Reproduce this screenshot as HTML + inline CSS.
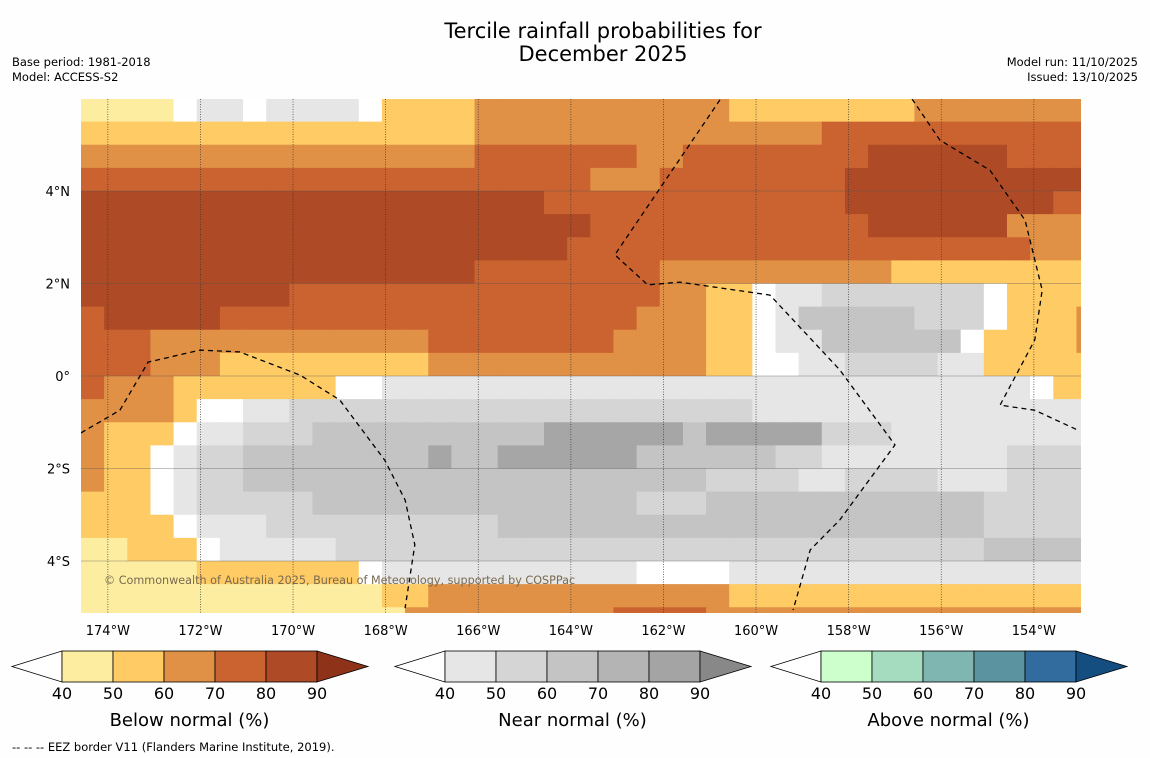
<!DOCTYPE html>
<html><head><meta charset="utf-8"><style>
body{margin:0;background:#fefefe;font-family:"DejaVu Sans","Liberation Sans",sans-serif;}
svg{display:block}
</style></head><body>
<svg id="s" width="1150" height="758" xmlns="http://www.w3.org/2000/svg" font-family="DejaVu Sans, Liberation Sans, sans-serif">
<rect width="1150" height="758" fill="#fefefe"/>
<text x="603" y="38" font-size="21" text-anchor="middle">Tercile rainfall probabilities for</text>
<text x="603" y="61" font-size="21" text-anchor="middle">December 2025</text>
<text x="12" y="66" font-size="11.5">Base period: 1981-2018</text>
<text x="12" y="81" font-size="11.5">Model: ACCESS-S2</text>
<text x="1138" y="66" font-size="11.5" text-anchor="end">Model run: 11/10/2025</text>
<text x="1138" y="81" font-size="11.5" text-anchor="end">Issued: 13/10/2025</text>
<defs><clipPath id="mc"><rect x="81" y="99" width="1000" height="514"/></clipPath></defs>
<g id="map" clip-path="url(#mc)"></g>
<g id="ax"></g>
<g id="cb"></g>
<text x="12" y="751" font-size="11.5">--  --  -- EEZ border V11 (Flanders Marine Institute, 2019).</text>
</svg>
<script>
const NS="http://www.w3.org/2000/svg";
const lonTicks=[-174,-172,-170,-168,-166,-164,-162,-160,-158,-156,-154];
const latTicks=[4,2,0,-2,-4];
const gridLon0=-174.58, gridLat0=6.0, cellDeg=0.5;
const gridRows=[
"1111waawaaaaw2222333333333332222222233333333",
"22222222222222222333333333333333444444444444",
"33333333333333333444444433444444445555554444",
"44444444444444444444443334444444455555555555",
"55555555555555555555444444444444455555555544",
"55555555555555555555554444444444445555553333",
"55555555555555555555544444444444444444444333",
"55555555555555555444444443333333333222222222",
"55555555544444444444444443322waabbbbbbbw2222",
"45555544444444444444444433322wacccccbbbw2223",
"44433333333333344444444333327waaccccccw22223",
"44433322222222233333333333322wwaabbbbaa22222",
"43332222222wwaaaaaaaaaaaaaaaaaaaaaaaaaaaaw22",
"33332wwaabbbbbbbbbbbbbbbbbbbbaaaaaaaaaaaaaaa",
"3222waabbbcccccccccceeeeeeceeeeebbbaaaaaaaaa",
"322wabbccccccccecceeeeeeccccccbbaaaaaaaabbbb",
"322wabbccccccccccccccccccccbbbbaabbbbaaabbbb",
"222wabbbbbccccccccccccccbbbccccccccccccbbbbb",
"2222waaabbbbbbbbbbcccccccccccccccccccccbbbbb",
"11222waaaaabbbbbbbbbbbbbbbbbbbbbbbbbbbbccccc",
"111112222222waaaaaaaaaaawwwwaaaaaaaaaaaaaaaa",
"11111111111112233333333333332222222222222222",
"11111111111111333333333444433333333333333333"
];
const catColors={"1":"#fdeda0","2":"#fecb65","3":"#e09145","4":"#cb6331","5":"#ae4a25","7":"#fecb65","w":"#ffffff","a":"#e6e6e6","b":"#d5d5d5","c":"#c4c4c4","d":"#b4b4b4","e":"#a6a6a6"};
const eez1=[[-174.58,-1.23],[-173.74,-0.74],[-173.13,0.30],[-172.01,0.56],[-171.15,0.52],[-169.85,0.02],[-168.99,-0.52],[-168.02,-1.82],[-167.58,-2.68],[-167.37,-3.65],[-167.58,-5.02]];
const eez2=[[-160.78,5.97],[-163.05,2.62],[-162.34,1.97],[-161.65,2.03],[-159.70,1.75],[-158.19,0.13],[-157.0,-1.49],[-158.19,-3.11],[-158.83,-3.76],[-159.2,-5.06]];
const eez3=[[-156.63,5.99],[-156.03,5.10],[-154.95,4.45],[-154.19,3.37],[-153.82,1.86],[-153.98,0.78],[-154.73,-0.63],[-153.98,-0.74],[-153.05,-1.17]];
const cbTicks=[40,50,60,70,80,90];
const below=["#fdeda0","#fecb65","#e09145","#cb6331","#ae4a25"],belowEnd="#8e3219";
const near=["#e6e6e6","#d5d5d5","#c4c4c4","#b4b4b4","#a4a4a4"],nearEnd="#888888";
const above=["#ccffcc","#a5dbbf","#80b6b1","#5b94a0","#326c9e"],aboveEnd="#144d80";

const X=lon=>81+(lon-gridLon0)*46.3;
const Y=lat=>376-lat*46.25;
function el(t,a,p){const e=document.createElementNS(NS,t);for(const k in a)e.setAttribute(k,a[k]);p.appendChild(e);return e;}
const map=document.getElementById('map'),ax=document.getElementById('ax'),cb=document.getElementById('cb');
gridRows.forEach((row,r)=>{
  for(let c=0;c<44;c++){
    const ch=row[c]||row[row.length-1];
    const lon=gridLon0+c*cellDeg,lat=gridLat0-r*cellDeg;
    const x0=X(lon),x1=X(lon+cellDeg),y0=Y(lat),y1=Y(lat-cellDeg);
    const e=el('rect',{x:x0,y:y0,width:x1-x0+0.6,height:y1-y0+0.6,fill:catColors[ch]||"#e6e6e6"},map);
    
    
  }
});
latTicks.forEach(l=>{
  const e=el('line',{x1:81,x2:1081,y1:Y(l),y2:Y(l),stroke:"#555",'stroke-width':0.6,opacity:0.7},map);
  
  const t=el('text',{x:70,y:Y(l)+5,'font-size':13,'text-anchor':'end'},ax);
  t.textContent=l>0?l+'°N':l<0?(-l)+'°S':'0°';
  
});
lonTicks.forEach(l=>{
  const e=el('line',{x1:X(l),x2:X(l),y1:99,y2:613,stroke:"#333",'stroke-width':0.7,'stroke-dasharray':'1,1.5'},map);
  
  const t=el('text',{x:X(l),y:635,'font-size':13,'text-anchor':'middle'},ax);
  t.textContent=(-l)+'°W';
  
});
[eez1,eez2,eez3].forEach(p=>{
  const e=el('polyline',{points:p.map(q=>X(q[0])+','+Y(q[1])).join(' '),fill:'none',stroke:'#000','stroke-width':1.3,'stroke-dasharray':'5,4'},map);
  
});
const cr=el('text',{x:104,y:584,'font-size':11.2,fill:'#7a6a50'},map);
cr.textContent='© Commonwealth of Australia 2025, Bureau of Meteorology, supported by COSPPac';

function bar(x0,cols,endc,title,name){
  const w=51,y=651,h=31;
  const g=el('g',{},cb);
  el('polygon',{points:`${x0},${y+h/2} ${x0+50},${y} ${x0+50},${y+h}`,fill:'#fff',stroke:'#000','stroke-width':0.8},g);
  cols.forEach((c,i)=>{el('rect',{x:x0+50+i*w,y:y,width:w,height:h,fill:c,stroke:'#000','stroke-width':0.8},g);});
  const xe=x0+50+5*w;
  el('polygon',{points:`${xe},${y} ${xe+51},${y+h/2} ${xe},${y+h}`,fill:endc,stroke:'#000','stroke-width':0.8},g);
  cbTicks.forEach((t,i)=>{const tx=el('text',{x:x0+50+i*w,y:699,'font-size':16,'text-anchor':'middle'},g);tx.textContent=t;});
  const tt=el('text',{x:x0+50+2.5*w,y:726,'font-size':18,'text-anchor':'middle'},g);tt.textContent=title;
}
bar(12,below,belowEnd,'Below normal (%)','below-colorbar');
bar(395,near,nearEnd,'Near normal (%)','near-colorbar');
bar(771,above,aboveEnd,'Above normal (%)','above-colorbar');
</script>
</body></html>
